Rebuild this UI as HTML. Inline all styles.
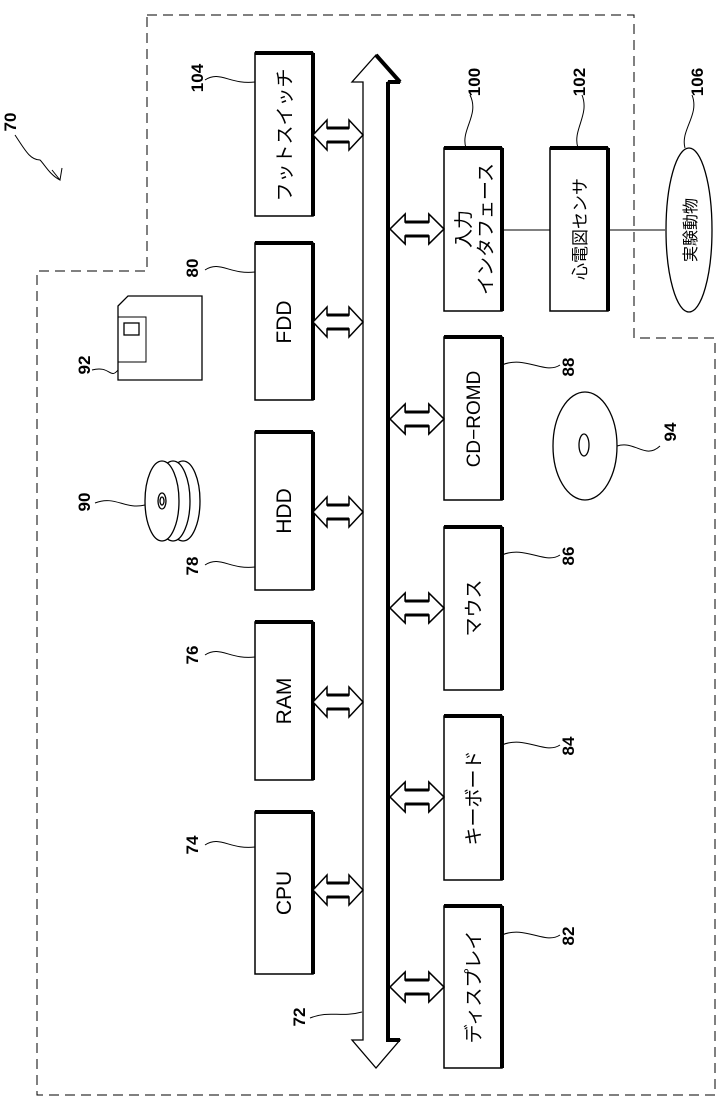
<!DOCTYPE html>
<html><head><meta charset="utf-8"><style>
html,body{margin:0;padding:0;background:#fff}
svg{display:block}
text{font-family:"Liberation Sans","Noto Sans CJK JP",sans-serif;fill:#000}
.n{font-weight:bold;font-size:17px}
.b{font-size:19px}
</style></head><body>
<svg width="722" height="1105" viewBox="0 0 722 1105" xmlns="http://www.w3.org/2000/svg">
<defs>
<g id="da">
<path d="M0,0 L14,-15 L14,-7 L36,-7 L36,-15 L50,0 L36,15 L36,7 L14,7 L14,15 Z" fill="#fff" stroke="#000" stroke-width="1.5"/>
<path d="M14,-7 L36,-7 M14,7 L36,7" stroke="#000" stroke-width="3" fill="none"/>
</g>
</defs>
<path d="M147,15 L634,15 L634,338 L715,338 L715,1095 L37,1095 L37,271 L147,271 Z" fill="none" stroke="#000" stroke-width="1" stroke-dasharray="10,6"/>
<line x1="502" y1="230" x2="665" y2="230" stroke="#000" stroke-width="1"/>
<path d="M363,82 L352,82 L376,55 L400,82 L388,82 L388,1040 L400,1040 L376,1068 L352,1040 L363,1040 Z" fill="#fff" stroke="#000" stroke-width="1.3"/>
<path d="M388,82 L400,82 M388,82 L388,1040 L400,1040 M376,55 L400,82" stroke="#000" stroke-width="4" fill="none"/>
<g fill="#fff" stroke="#000" stroke-width="1.5">
<rect x="255" y="53" width="58" height="163"/>
<rect x="255" y="243" width="58" height="157"/>
<rect x="255" y="432" width="58" height="158"/>
<rect x="255" y="622" width="58" height="158"/>
<rect x="255" y="812" width="58" height="162"/>
<rect x="444" y="148" width="58" height="163"/>
<rect x="444" y="337" width="58" height="163"/>
<rect x="444" y="527" width="58" height="163"/>
<rect x="444" y="716" width="58" height="164"/>
<rect x="444" y="906" width="58" height="162"/>
<rect x="550" y="148" width="58" height="163"/>
</g>
<g stroke="#000" stroke-width="4">
<line x1="255" y1="53" x2="313" y2="53"/><line x1="255" y1="243" x2="313" y2="243"/><line x1="255" y1="432" x2="313" y2="432"/><line x1="255" y1="622" x2="313" y2="622"/><line x1="255" y1="812" x2="313" y2="812"/>
<line x1="444" y1="148" x2="502" y2="148"/><line x1="444" y1="337" x2="502" y2="337"/><line x1="444" y1="527" x2="502" y2="527"/><line x1="444" y1="716" x2="502" y2="716"/><line x1="444" y1="906" x2="502" y2="906"/><line x1="550" y1="148" x2="608" y2="148"/>
<line x1="313" y1="53" x2="313" y2="216"/><line x1="313" y1="243" x2="313" y2="400"/><line x1="313" y1="432" x2="313" y2="590"/><line x1="313" y1="622" x2="313" y2="780"/><line x1="313" y1="812" x2="313" y2="974"/>
<line x1="502" y1="148" x2="502" y2="311"/><line x1="502" y1="337" x2="502" y2="500"/><line x1="502" y1="527" x2="502" y2="690"/><line x1="502" y1="716" x2="502" y2="880"/><line x1="502" y1="906" x2="502" y2="1068"/><line x1="608" y1="148" x2="608" y2="311"/>
</g>
<use href="#da" transform="translate(313,135)"/>
<use href="#da" transform="translate(313,322)"/>
<use href="#da" transform="translate(313,512)"/>
<use href="#da" transform="translate(313,702)"/>
<use href="#da" transform="translate(313,890)"/>
<use href="#da" transform="translate(390,229) scale(1.08,1)"/>
<use href="#da" transform="translate(390,419) scale(1.08,1)"/>
<use href="#da" transform="translate(390,608) scale(1.08,1)"/>
<use href="#da" transform="translate(390,797) scale(1.08,1)"/>
<use href="#da" transform="translate(390,987) scale(1.08,1)"/>
<ellipse cx="689" cy="230" rx="23" ry="82" fill="#fff" stroke="#000" stroke-width="1.3"/>
<g class="b" text-anchor="middle">
<text transform="translate(291,135) rotate(-90)">フットスイッチ</text>
<text transform="translate(291,322) rotate(-90)" font-size="21">FDD</text>
<text transform="translate(291,511) rotate(-90)" font-size="21">HDD</text>
<text transform="translate(291,701) rotate(-90)" font-size="21">RAM</text>
<text transform="translate(291,893) rotate(-90)" font-size="21">CPU</text>
<text transform="translate(470,229) rotate(-90)">入力</text>
<text transform="translate(492,229) rotate(-90)">インタフェース</text>
<text transform="translate(480,419) rotate(-90)">CD−ROMD</text>
<text transform="translate(480,608) rotate(-90)">マウス</text>
<text transform="translate(480,798) rotate(-90)">キーボード</text>
<text transform="translate(480,987) rotate(-90)">ディスプレイ</text>
<text transform="translate(586,229) rotate(-90)" font-size="17">心電図センサ</text>
<text transform="translate(696,230) rotate(-90)" font-size="16">実験動物</text>
</g>
<path d="M118,306 L128,296 L202,296 L202,380 L118,380 Z" fill="#fff" stroke="#000" stroke-width="1.3"/>
<rect x="118" y="317" width="28" height="45" fill="none" stroke="#000" stroke-width="1"/>
<rect x="124" y="323" width="15" height="12" fill="none" stroke="#000" stroke-width="1.3"/>
<g fill="#fff" stroke="#000" stroke-width="1.3">
<ellipse cx="183" cy="501" rx="17" ry="40"/>
<ellipse cx="173" cy="501" rx="17" ry="40"/>
<ellipse cx="162" cy="501" rx="17" ry="40"/>
<ellipse cx="162" cy="501" rx="4" ry="8"/>
<ellipse cx="162" cy="501" rx="2" ry="4"/>
</g>
<ellipse cx="585" cy="446" rx="32" ry="54" fill="#fff" stroke="#000" stroke-width="1.3"/>
<ellipse cx="584" cy="445" rx="5" ry="11" fill="none" stroke="#000" stroke-width="1.3"/>
<g fill="none" stroke="#000" stroke-width="1">
<path d="M205,80 C220,70 230,85 255,82"/>
<path d="M205,270 C220,260 230,275 255,272"/>
<path d="M205,565 C220,555 230,570 255,567"/>
<path d="M205,655 C220,645 230,660 255,657"/>
<path d="M205,845 C220,835 230,850 255,847"/>
<path d="M92,370 C110,365 110,380 118,370"/>
<path d="M95,503 C115,495 125,510 145,505"/>
<path d="M310,1018 C330,1010 340,1018 362,1012"/>
<path d="M466,148 C460,130 480,115 470,95"/>
<path d="M578,148 C572,130 590,115 582,95"/>
<path d="M685,148 C680,130 700,115 692,95"/>
<path d="M502,365 C525,355 545,375 560,365"/>
<path d="M502,555 C525,545 545,565 560,555"/>
<path d="M502,745 C525,735 545,755 560,745"/>
<path d="M502,935 C525,925 545,945 560,935"/>
<path d="M617,446 C635,440 645,460 660,446"/>
<path d="M15,135 C25,150 30,160 40,160 C45,165 50,175 60,180"/>
<path d="M52,170 L60,180 L62,168"/>
</g>
<g class="n" text-anchor="middle">
<text transform="translate(203,78) rotate(-90)">104</text>
<text transform="translate(198,268) rotate(-90)">80</text>
<text transform="translate(90,365) rotate(-90)">92</text>
<text transform="translate(90,502) rotate(-90)">90</text>
<text transform="translate(198,566) rotate(-90)">78</text>
<text transform="translate(198,655) rotate(-90)">76</text>
<text transform="translate(198,845) rotate(-90)">74</text>
<text transform="translate(305,1017) rotate(-90)">72</text>
<text transform="translate(480,82) rotate(-90)">100</text>
<text transform="translate(585,82) rotate(-90)">102</text>
<text transform="translate(703,82) rotate(-90)">106</text>
<text transform="translate(574,367) rotate(-90)">88</text>
<text transform="translate(676,432) rotate(-90)">94</text>
<text transform="translate(574,556) rotate(-90)">86</text>
<text transform="translate(574,746) rotate(-90)">84</text>
<text transform="translate(574,936) rotate(-90)">82</text>
<text transform="translate(16,122) rotate(-90)">70</text>
</g>
</svg>
</body></html>
